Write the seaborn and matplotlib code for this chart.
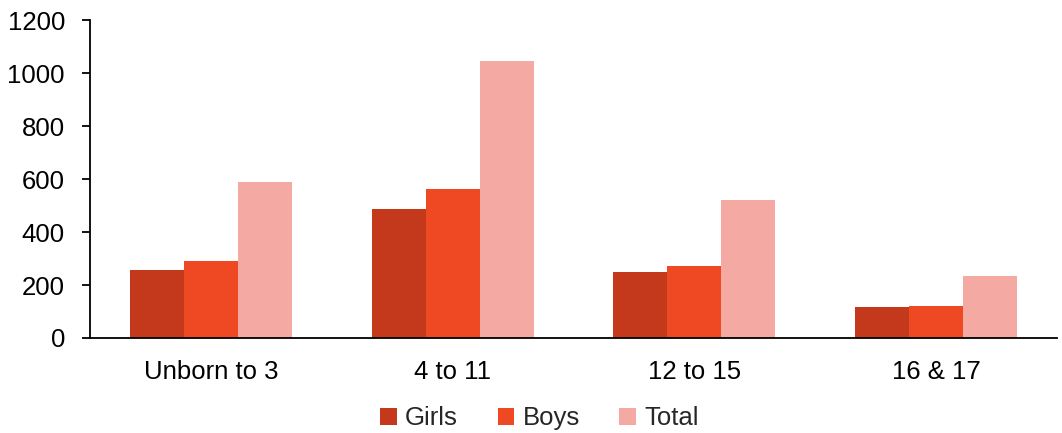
import matplotlib
matplotlib.use("Agg")
import matplotlib.pyplot as plt
import seaborn as sns
import pandas as pd
from matplotlib.ticker import FixedLocator

# ---------------------------------------------------------
# Data
# ---------------------------------------------------------
age_groups = ["Unborn to 3", "4 to 11", "12 to 15", "16 & 17"]
girls = [257, 487, 249, 117]
boys = [291, 562, 272, 121]
total = [589, 1045, 521, 234]

series_names = ["Girls", "Boys", "Total"]
series_colors = ["#C4381C", "#EF4923", "#F5A9A3"]

df = pd.DataFrame({
    "Age": age_groups * 3,
    "Series": ["Girls"] * 4 + ["Boys"] * 4 + ["Total"] * 4,
    "Value": girls + boys + total,
})

# ---------------------------------------------------------
# Plot
# ---------------------------------------------------------
sns.set_style("white")
plt.rcParams["font.family"] = ["Liberation Sans", "DejaVu Sans"]

fig = plt.figure(figsize=(10.62, 4.33), dpi=100)
ax = fig.add_axes([0.0847, 0.2194, 0.9106, 0.7344])

sns.barplot(
    data=df, x="Age", y="Value", hue="Series",
    hue_order=series_names, palette=series_colors,
    width=0.67, gap=0, saturation=1, linewidth=0,
    ax=ax, legend=True,
)

ax.set_xlim(-0.5, 3.5)
ax.set_ylim(0, 1200)
ax.set_yticks(range(0, 1201, 200))
ax.set_xlabel("")
ax.set_ylabel("")

for side in ["top", "right"]:
    ax.spines[side].set_visible(False)
for side in ["left", "bottom"]:
    ax.spines[side].set_color("black")
    ax.spines[side].set_linewidth(1.3)

# category labels without ticks, boundary ticks as minor ticks
ax.tick_params(axis="x", which="major", length=0, labelsize=18.5, pad=16, colors="black")
ax.xaxis.set_minor_locator(FixedLocator([-0.5, 0.5, 1.5, 2.5, 3.5]))
ax.tick_params(axis="x", which="minor", length=5.5, width=1.3, direction="out", color="black")
ax.tick_params(axis="y", length=6, width=1.3, direction="out", labelsize=18.5, pad=12,
               colors="black", left=True)

handles, labels = ax.get_legend_handles_labels()
ax.get_legend().remove()
fig.legend(
    handles, labels, loc="center", bbox_to_anchor=(0.508, 0.034),
    ncol=3, frameon=False, fontsize=18.5, borderpad=0,
    handlelength=0.64, handleheight=0.64, handletextpad=0.32, columnspacing=1.55,
)

plt.savefig("out.png", dpi=100)
plt.close()
